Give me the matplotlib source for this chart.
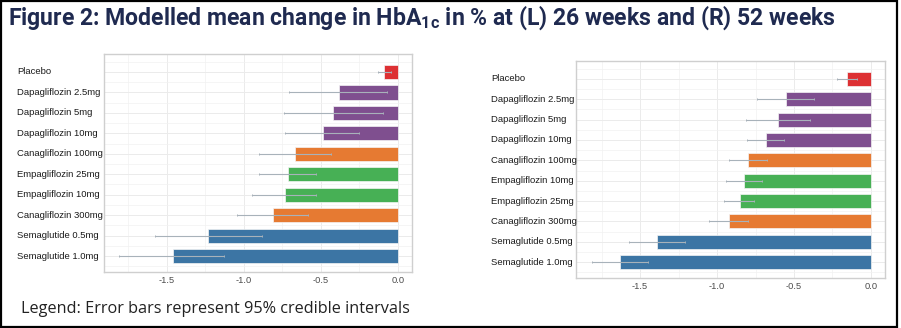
import matplotlib
matplotlib.use("Agg")
import matplotlib.pyplot as plt
import matplotlib.transforms as mtransforms
from matplotlib.patches import Rectangle
import numpy as np

# data, top of the chart first
labels_26 = ["Placebo", "Dapagliflozin 2.5mg", "Dapagliflozin 5mg", "Dapagliflozin 10mg",
             "Canagliflozin 100mg", "Empagliflozin 25mg", "Empagliflozin 10mg",
             "Canagliflozin 300mg", "Semaglutide 0.5mg", "Semaglutide 1.0mg"]
mean_26 = [-0.09, -0.386, -0.42, -0.485, -0.67, -0.715, -0.734, -0.813, -1.236, -1.46]
lo_26 = [-0.13, -0.708, -0.74, -0.734, -0.90, -0.90, -0.946, -1.043, -1.58, -1.81]
hi_26 = [-0.046, -0.07, -0.096, -0.256, -0.438, -0.534, -0.534, -0.586, -0.88, -1.127]

labels_52 = ["Placebo", "Dapagliflozin 2.5mg", "Dapagliflozin 5mg", "Dapagliflozin 10mg",
             "Canagliflozin 100mg", "Empagliflozin 10mg", "Empagliflozin 25mg",
             "Canagliflozin 300mg", "Semaglutide 0.5mg", "Semaglutide 1.0mg"]
mean_52 = [-0.157, -0.554, -0.607, -0.683, -0.796, -0.822, -0.854, -0.923, -1.39, -1.63]
lo_52 = [-0.22, -0.74, -0.815, -0.805, -0.923, -0.94, -0.955, -1.05, -1.57, -1.81]
hi_52 = [-0.092, -0.371, -0.393, -0.564, -0.676, -0.708, -0.757, -0.80, -1.21, -1.45]

drug_colors = {"Placebo": "#DD3033", "Dapagliflozin": "#7F4F8F", "Canagliflozin": "#E67A32",
               "Empagliflozin": "#47B055", "Semaglutide": "#3C75A4"}

x_ticks = [-1.5, -1.0, -0.5, 0.0]

W, H = 901, 328
fig = plt.figure(figsize=(W / 100, H / 100), dpi=100)
plt.rcParams["mathtext.fontset"] = "custom"
plt.rcParams["mathtext.rm"] = "Roboto:bold"


def px_box(x0, x1, ytop, ybot):
    return [x0 / W, 1 - ybot / H, (x1 - x0) / W, (ybot - ytop) / H]


def plot_panel(ax, labels, mean, lo, hi, xlim, label_x):
    n = len(labels)
    ypos = np.arange(n)[::-1]   # first label at top
    cols = [drug_colors[l.split(" ")[0]] for l in labels]
    ax.barh(ypos, mean, height=0.69, color=cols, edgecolor="#f4f4f4", linewidth=0.5, zorder=2)
    m = np.array(mean)
    err = [m - np.array(lo), np.array(hi) - m]
    ax.errorbar(m, ypos, xerr=err, fmt="none", ecolor="#A8B2BA", elinewidth=0.8,
                capsize=0.9, capthick=0.7, zorder=3)
    ax.set_xlim(*xlim)
    ax.set_ylim(-0.78, n - 1 + 0.88)
    ax.set_xticks(x_ticks)
    ax.set_xticklabels([f"{v:.1f}" for v in x_ticks], fontsize=6.7, color="#4d4d4d",
                       family="Liberation Sans")
    ax.set_xticks(np.arange(-1.75, 0.01, 0.25), minor=True)
    ax.set_yticks(ypos)
    ax.set_yticklabels([])
    ax.set_yticks(np.arange(-0.5, n, 1.0), minor=True)
    ax.tick_params("both", length=0, which="both")
    ax.tick_params(axis="x", pad=3)
    ax.grid(True, which="major", color="#EBEBEB", lw=0.7, zorder=0)
    ax.grid(True, which="minor", color="#F1F1F1", lw=0.5, zorder=0)
    ax.set_axisbelow(True)
    for s in ax.spines.values():
        s.set_color("#CFCFCF")
        s.set_linewidth(1.0)
    # category names, left aligned at a fixed pixel column
    tr = mtransforms.blended_transform_factory(fig.transFigure, ax.transData)
    for y, lab in zip(ypos, labels):
        ax.text(label_x / W, y, lab, transform=tr, ha="left", va="center",
                fontsize=6.8, color="#1a1a1a", family="Liberation Sans")


ax1 = fig.add_axes(px_box(104, 412, 54, 272))
plot_panel(ax1, labels_26, mean_26, lo_26, hi_26, (-1.909, 0.091), 17)

ax2 = fig.add_axes(px_box(576, 885, 61, 278))
plot_panel(ax2, labels_52, mean_52, lo_52, hi_52, (-1.916, 0.091), 491)


def fit_text(x, y, s, width_px, size, **kw):
    t = fig.text(x / W, 1 - y / H, s, fontsize=size, **kw)
    r = fig.canvas.get_renderer()
    w = t.get_window_extent(renderer=r).width
    t.set_fontsize(size * width_px / w)
    return t


fit_text(8, 18, "Figure 2: Modelled mean change in HbA$_{\\mathrm{1c}}$ in % at (L) 26 weeks and (R) 52 weeks",
         830, 16, family="Roboto", weight="bold", color="#1F2A50", va="center", ha="left")
fit_text(21, 309, "Legend: Error bars represent 95% credible intervals",
         386, 12, family="Open Sans", color="#222222", va="center", ha="left")

# black frame around the whole slide
fig.patches.append(Rectangle((0.001, 0.004), 0.995, 0.993, transform=fig.transFigure,
                             fill=False, edgecolor="black", linewidth=1.6))

fig.savefig("out.png", dpi=100)
